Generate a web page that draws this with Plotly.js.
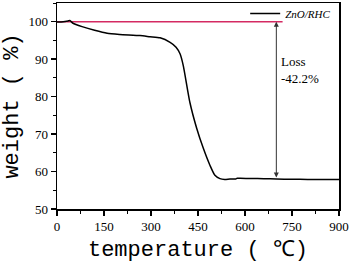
<!DOCTYPE html>
<html><head><meta charset="utf-8">
<script src="https://cdn.plot.ly/plotly-3.0.1.min.js"></script>
<style>body{margin:0;padding:0;background:#fff}#c{width:352px;height:263px}</style>
</head><body><div id="c"></div>
<script>
const temperature = [0, 20, 35, 41, 51, 80, 120, 160, 200, 265, 297, 329, 361, 380, 393, 403, 424, 446, 467, 488, 504, 520, 535, 552, 570, 575, 585, 620, 660, 700, 750, 800, 850, 900];
const weight =      [99.9, 100.0, 100.2, 100.3, 99.6, 98.7, 97.7, 96.9, 96.6, 96.3, 96.0, 95.7, 94.5, 93.2, 91.4, 88.3, 78.5, 71.5, 66.2, 61.7, 59.0, 58.1, 57.9, 58.0, 58.0, 58.2, 58.2, 58.15, 58.1, 58.0, 57.95, 57.9, 57.85, 57.85];
const refX = [0, 720];
const refY = [100, 100];
const lossTemp = 700;
const lossFrom = 58.0;
const lossTo = 100;
const xTicks = [0, 150, 300, 450, 600, 750, 900];
const yTicks = [50, 60, 70, 80, 90, 100];

const tickFont = {family: 'Liberation Serif, serif', size: 13, color: '#000'};
const titleFont = {family: 'Liberation Mono, DejaVu Sans Mono, monospace', size: 22, color: '#000'};

const traces = [
  {x: refX, y: refY, mode: 'lines', line: {color: '#d42a62', width: 1.4}, showlegend: false, hoverinfo: 'skip'},
  {x: temperature, y: weight, mode: 'lines', name: 'ZnO/RHC', line: {color: '#000', width: 1.5, shape: 'spline', smoothing: 0.6}}
];

const axisCommon = {showline: true, mirror: true, linecolor: '#000', linewidth: 1.5, ticks: 'outside', ticklen: 5, tickwidth: 1.5, tickcolor: '#000', showgrid: false, zeroline: false, tickfont: tickFont};

const layout = {
  width: 352, height: 263,
  margin: {l: 57, r: 13, t: 3, b: 54, autoexpand: false},
  paper_bgcolor: '#fff', plot_bgcolor: '#fff',
  xaxis: Object.assign({}, axisCommon, {range: [0, 900], tickvals: xTicks, minor: {ticks: 'outside', ticklen: 3, tickwidth: 1, tickcolor: '#000', dtick: 75, tick0: 0},
    title: {text: 'temperature ( ℃)', font: titleFont, standoff: 8}}),
  yaxis: Object.assign({}, axisCommon, {range: [50, 105], tickvals: yTicks, minor: {ticks: 'outside', ticklen: 3, tickwidth: 1, tickcolor: '#000', dtick: 5, tick0: 0},
    title: {text: 'weight ( %)', font: titleFont, standoff: 6}}),
  showlegend: true,
  legend: {x: 0.99, y: 1.02, xanchor: 'right', yanchor: 'top', bgcolor: 'rgba(0,0,0,0)', font: {family: 'Liberation Serif, serif', size: 11, style: 'italic', color: '#000'}, itemwidth: 30, tracegroupgap: 0},
  annotations: [
    {x: lossTemp, y: lossTo, ax: lossTemp, ay: lossFrom, xref: 'x', yref: 'y', axref: 'x', ayref: 'y', text: '', showarrow: true, arrowhead: 2, arrowside: 'end+start', arrowsize: 1, arrowwidth: 1, arrowcolor: '#333'},
    {x: lossTemp, y: 87, xref: 'x', yref: 'y', xanchor: 'left', yanchor: 'middle', xshift: 3, align: 'left', showarrow: false, text: 'Loss<br>-42.2%', font: {family: 'Liberation Serif, serif', size: 13, color: '#000'}}
  ]
};
Plotly.newPlot('c', traces, layout, {displayModeBar: false, staticPlot: true});
</script></body></html>
